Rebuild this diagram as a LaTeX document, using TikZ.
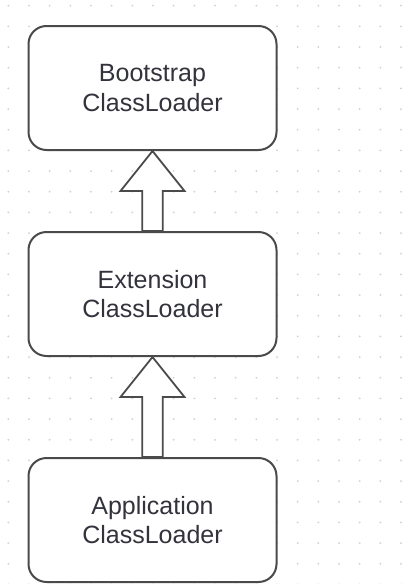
\documentclass[tikz,border=0pt]{standalone}
\usepackage{fontspec}
\setmainfont{Liberation Sans}
\usetikzlibrary{calc}
\definecolor{edge}{HTML}{4A4A4A}
\definecolor{txt}{HTML}{33333D}
\definecolor{dotc}{HTML}{D0D0D0}
\tikzset{
  loaderbox/.style={draw=edge, line width=2pt, fill=white, rounded corners=18pt,
    minimum width=248pt, minimum height=124pt, align=center, text=txt,
    font=\fontsize{25}{29.5}\selectfont, inner sep=0pt},
  hollowarrow/.style={draw=edge, line width=1.8pt, fill=white, line join=miter}
}
\begin{document}
\begin{tikzpicture}[x=1pt,y=-1pt]
\useasboundingbox (0,0) rectangle (420,584);
\fill[white] (0,0) rectangle (420,584);
\foreach \i in {0,...,20} {
  \foreach \j in {0,...,28} {
    \fill[dotc] ({8.3+20.67*\i},{5.7+20.67*\j}) circle (1pt);
  }
}
\node[loaderbox] (b1) at (152.5,88) {Bootstrap\\ClassLoader};
\node[loaderbox] (b2) at (152.5,294) {Extension\\ClassLoader};
\node[loaderbox] (b3) at (152.5,520) {Application\\ClassLoader};
\foreach \u/\l in {b1/b2, b2/b3} {
  \draw[hollowarrow] (\u.south) -- ($(\u.south)+(32,40)$) -- ($(\u.south)+(10.3,40)$)
    -- ($(\l.north)+(10.3,0)$) -- ($(\l.north)+(-10.3,0)$)
    -- ($(\u.south)+(-10.3,40)$) -- ($(\u.south)+(-32,40)$) -- cycle;
}
\end{tikzpicture}
\end{document}
